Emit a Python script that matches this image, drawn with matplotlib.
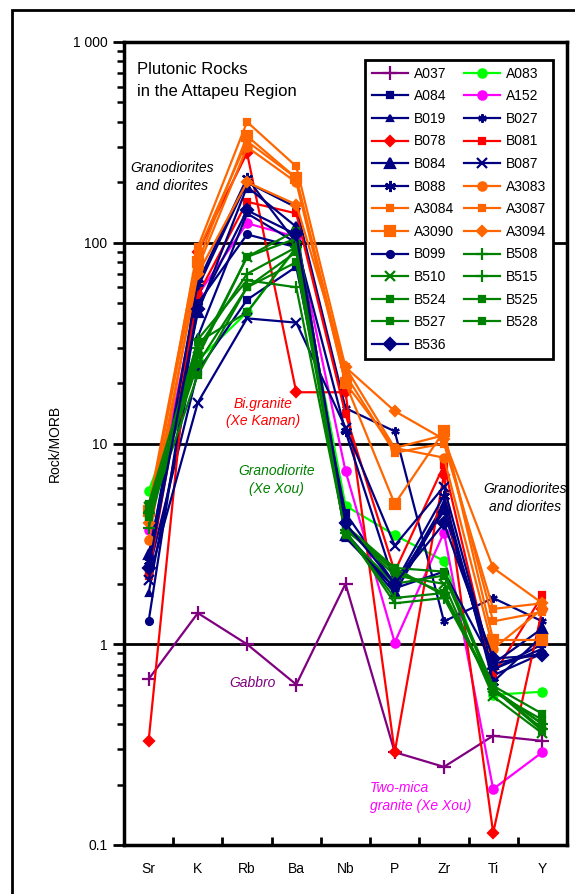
import numpy as np
import matplotlib
matplotlib.use("Agg")
import matplotlib.pyplot as plt
from matplotlib.patches import Rectangle
from matplotlib.ticker import FixedLocator, FixedFormatter, NullFormatter

plt.rcParams['font.family'] = ['Liberation Sans', 'DejaVu Sans']

# MORB-normalised values
elements = ['Sr', 'K', 'Rb', 'Ba', 'Nb', 'P', 'Zr', 'Ti', 'Y']

A037 = [0.67, 1.43, 1.0, 0.63, 2.0, 0.29, 0.245, 0.35, 0.33]
A083 = [5.8, 26, 45, 94, 4.9, 3.5, 2.6, 0.56, 0.58]
A084 = [2.3, 23, 52, 76, 4.5, 2.0, 4.6, 0.75, 1.0]
A152 = [3.7, 55, 125, 107, 7.3, 1.02, 3.6, 0.19, 0.29]
B019 = [1.8, 34, 140, 100, 3.4, 1.9, 5.0, 0.7, 0.9]
B027 = [2.5, 60, 200, 150, 15, 11.5, 1.3, 1.7, 1.3]
B078 = [0.33, 90, 280, 18, 18, 0.29, 7.0, 0.115, 1.5]
B081 = [2.2, 55, 160, 140, 14, 2.3, 7.8, 0.7, 1.75]
B084 = [2.8, 45, 190, 120, 3.5, 1.8, 4.8, 0.8, 1.2]
B087 = [2.1, 16, 42, 40, 12, 3.1, 6.1, 0.75, 0.95]
B088 = [2.6, 63, 210, 100, 11.5, 2.0, 5.5, 0.65, 1.1]
A3083 = [3.3, 75, 300, 200, 20, 9.5, 8.5, 0.95, 1.5]
A3084 = [4.8, 90, 320, 210, 22, 9.0, 10, 1.5, 1.6]
A3087 = [4.2, 95, 400, 240, 24, 9.5, 11, 1.3, 1.45]
A3090 = [4.6, 80, 340, 210, 20, 5.0, 11.5, 1.05, 1.05]
A3094 = [4.0, 70, 200, 155, 24, 14.5, 10.5, 2.4, 1.6]
B099 = [1.3, 50, 110, 95, 3.6, 1.9, 2.3, 0.8, 0.9]
B508 = [4.5, 30, 70, 95, 3.7, 1.6, 1.7, 0.6, 0.38]
B510 = [4.8, 27, 85, 105, 3.8, 2.2, 2.0, 0.55, 0.36]
B515 = [3.8, 33, 65, 60, 3.6, 1.7, 1.8, 0.6, 0.4]
B524 = [4.6, 25, 60, 90, 3.7, 2.4, 2.3, 0.62, 0.45]
B525 = [4.4, 28, 85, 115, 3.8, 2.3, 1.8, 0.58, 0.42]
B527 = [4.3, 22, 60, 80, 3.5, 2.0, 2.2, 0.6, 0.4]
B528 = [5.0, 32, 45, 95, 3.9, 2.4, 1.75, 0.6, 0.37]
B536 = [2.4, 47, 145, 110, 4.0, 2.0, 4.0, 0.85, 0.88]

purple = '#800080'
lime = '#00ff00'
navy = '#000080'
magenta = '#ff00ff'
red = '#ff0000'
orange = '#ff6600'
green = '#008000'
asterisk = (6, 2, 0)

# name, values, colour, marker, markersize
samples = [
    ('A037', A037, purple, '+', 10),
    ('A083', A083, lime, 'o', 6),
    ('A084', A084, navy, 's', 5),
    ('A152', A152, magenta, 'o', 6),
    ('B019', B019, navy, '^', 5),
    ('B027', B027, navy, asterisk, 6),
    ('B078', B078, red, 'D', 5),
    ('B081', B081, red, 's', 5),
    ('B084', B084, navy, '^', 7),
    ('B087', B087, navy, 'x', 7),
    ('B088', B088, navy, asterisk, 8),
    ('A3083', A3083, orange, 'o', 6),
    ('A3084', A3084, orange, 's', 4),
    ('A3087', A3087, orange, 's', 4),
    ('A3090', A3090, orange, 's', 7),
    ('A3094', A3094, orange, 'D', 5),
    ('B099', B099, navy, 'o', 5),
    ('B508', B508, green, '+', 8),
    ('B510', B510, green, 'x', 7),
    ('B515', B515, green, '+', 8),
    ('B524', B524, green, 's', 4),
    ('B525', B525, green, 's', 4),
    ('B527', B527, green, 's', 4),
    ('B528', B528, green, 's', 4),
    ('B536', B536, navy, 'D', 6),
]

fig = plt.figure(figsize=(5.75, 8.94), dpi=100)
ax = fig.add_axes([124 / 575, 1 - 845 / 894, (567 - 124) / 575, (845 - 42) / 894])

x = np.arange(len(elements))
handles = {}
for name, vals, col, mk, ms in samples:
    ln, = ax.plot(x, vals, color=col, marker=mk, markersize=ms, lw=1.6,
                  markeredgewidth=1.6, label=name, zorder=3)
    handles[name] = ln

ax.set_yscale('log')
ax.set_ylim(0.1, 1000)
ax.set_xlim(-0.5, 8.5)

ax.yaxis.set_major_locator(FixedLocator([0.1, 1, 10, 100, 1000]))
ax.yaxis.set_major_formatter(FixedFormatter(['0.1', '1', '10', '100', '1 000']))
minors = [m * 10.0 ** e for e in range(-1, 3) for m in range(2, 10)]
ax.yaxis.set_minor_locator(FixedLocator(minors))
ax.yaxis.set_minor_formatter(NullFormatter())
ax.tick_params(axis='y', which='major', direction='out', length=8, width=2,
               labelsize=10, pad=4)
ax.tick_params(axis='y', which='minor', direction='out', length=5, width=1.8)

ax.xaxis.set_major_locator(FixedLocator(x))
ax.xaxis.set_major_formatter(FixedFormatter(elements))
ax.xaxis.set_minor_locator(FixedLocator(np.arange(0.5, 8.0, 1.0)))
ax.tick_params(axis='x', which='major', length=0, labelsize=10, pad=12)
ax.tick_params(axis='x', which='minor', direction='in', length=6, width=2)

ax.grid(axis='y', which='major', color='black', lw=2)
ax.set_axisbelow(True)
for sp in ax.spines.values():
    sp.set_linewidth(2.5)

ax.set_ylabel('Rock/MORB', fontsize=10)
ax.yaxis.set_label_coords(-(124 - 62) / 443, 0.5)

# legend: matplotlib fills columns first, so order accordingly
col1 = ['A037', 'A084', 'B019', 'B078', 'B084', 'B088', 'A3084', 'A3090',
        'B099', 'B510', 'B524', 'B527', 'B536']
col2 = ['A083', 'A152', 'B027', 'B081', 'B087', 'A3083', 'A3087', 'A3094',
        'B508', 'B515', 'B525', 'B528']
order = col1 + col2
leg = ax.legend([handles[n] for n in order], order, ncol=2, loc='upper right',
                bbox_to_anchor=(0.968, 0.978), borderaxespad=0, fontsize=10,
                handlelength=2.6, labelspacing=0.62, columnspacing=0.7,
                handletextpad=0.4, borderpad=0.5, fancybox=False, framealpha=1,
                edgecolor='black')
leg.get_frame().set_linewidth(2)
leg.set_zorder(5)

ax.text(0.029, 0.975, 'Plutonic Rocks\nin the Attapeu Region', transform=ax.transAxes,
        fontsize=12, ha='left', va='top', linespacing=1.6)
ax.text(0.108, 0.832, 'Granodiorites\nand diorites', transform=ax.transAxes,
        fontsize=10, style='italic', ha='center', va='center', linespacing=1.3)
ax.text(0.314, 0.539, 'Bi.granite\n(Xe Kaman)', transform=ax.transAxes,
        fontsize=10, style='italic', color=red, ha='center', va='center',
        linespacing=1.3)
ax.text(0.345, 0.4545, 'Granodiorite\n(Xe Xou)', transform=ax.transAxes,
        fontsize=10, style='italic', color=green, ha='center', va='center',
        linespacing=1.3)
ax.text(0.905, 0.432, 'Granodiorites\nand diorites', transform=ax.transAxes,
        fontsize=10, style='italic', ha='center', va='center', linespacing=1.3)
ax.text(0.289, 0.2017, 'Gabbro', transform=ax.transAxes,
        fontsize=10, style='italic', color=purple, ha='center', va='center')
ax.text(0.555, 0.0598, 'Two-mica\ngranite (Xe Xou)', transform=ax.transAxes,
        fontsize=10, style='italic', color=magenta, ha='left', va='center',
        linespacing=1.3)

# outer frame of the original figure
fig.patches.append(Rectangle((12 / 575, -0.05), 1.0, 1.05 - 10 / 894,
                             transform=fig.transFigure, fill=False,
                             edgecolor='black', lw=2))

fig.savefig('out.png', dpi=100)
